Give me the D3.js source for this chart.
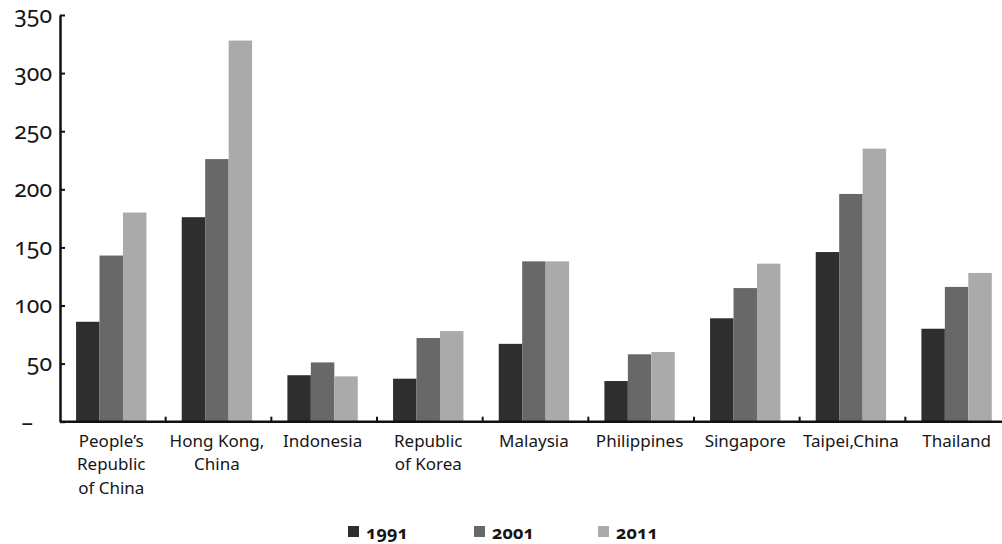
<!DOCTYPE html>
<html>
<head>
<meta charset="utf-8">
<script src="https://cdn.jsdelivr.net/npm/d3@7"></script>
<style>
  body { margin: 0; background: #fff; }
  text { font-family: "Noto Sans", Lato, sans-serif; fill: #161616; font-variant-numeric: oldstyle-nums; }
</style>
</head>
<body>
<div id="chart"></div>
<script>
const categories = ["People's Republic of China", "Hong Kong, China", "Indonesia", "Republic of Korea",
  "Malaysia", "Philippines", "Singapore", "Taipei,China", "Thailand"];
const labelLines = [["People\u2019s", "Republic", "of China"], ["Hong Kong,", "China"], ["Indonesia"],
  ["Republic", "of Korea"], ["Malaysia"], ["Philippines"], ["Singapore"], ["Taipei,China"], ["Thailand"]];
const years = ["1991", "2001", "2011"];
const values1991 = [86, 176, 40, 37, 67, 35, 89, 146, 80];
const values2001 = [143, 226, 51, 72, 138, 58, 115, 196, 116];
const values2011 = [180, 328, 39, 78, 138, 60, 136, 235, 128];
const yTicks = [0, 50, 100, 150, 200, 250, 300, 350];
const colors = ["#2e2e2e", "#686868", "#aaaaaa"];

var width = 1002, height = 544;
var mLeft = 60, mRight = 1011, mTop = 15, mBottom = 421.7;

const svg = d3.select("#chart").append("svg")
    .attr("width", width)
    .attr("height", height);

var x0 = d3.scaleBand().domain(categories).range([mLeft, mRight]);
var bw = x0.bandwidth();
var x1 = d3.scaleBand().domain(years).range([bw * 0.152, bw * 0.818]);
var y = d3.scaleLinear().domain([0, 350]).range([mBottom, mTop]);
var color = d3.scaleOrdinal().domain(years).range(colors);

var series = [values1991, values2001, values2011];
var rows = categories.map((c, i) => ({ cat: c, vals: years.map((yr, j) => ({ year: yr, v: series[j][i] })) }));

// bars
var groups = svg.selectAll("g.grp")
    .data(rows)
    .enter().append("g")
    .attr("class", "grp")
    .attr("transform", d => `translate(${x0(d.cat)},0)`);

groups.selectAll("rect")
    .data(d => d.vals)
    .enter().append("rect")
    .attr("x", d => x1(d.year))
    .attr("y", d => y(d.v))
    .attr("width", x1.bandwidth())
    .attr("height", d => y(0) - y(d.v))
    .attr("fill", d => color(d.year));

// y axis
var yAxis = d3.axisLeft(y)
    .tickValues(yTicks)
    .tickSize(-5)
    .tickSizeOuter(0)
    .tickPadding(8)
    .tickFormat(d => d === 0 ? "\u2013" : d);

var yg = svg.append("g")
    .attr("transform", `translate(${mLeft},0)`)
    .call(yAxis);
yg.select(".domain").attr("stroke", "#111").attr("stroke-width", 2.5);
yg.selectAll(".tick line").attr("stroke", "#111").attr("stroke-width", 2);
yg.selectAll(".tick text")
    .style("font-size", "23px")
    .attr("fill", "#161616")
    .attr("dx", d => d === 0 ? -19 : 0);

// x axis line and ticks between categories
svg.append("line")
    .attr("x1", mLeft).attr("x2", mRight)
    .attr("y1", y(0)).attr("y2", y(0))
    .attr("stroke", "#111")
    .attr("stroke-width", 2.5);

svg.selectAll("line.xtick")
    .data(categories.slice(1))
    .enter().append("line")
    .attr("class", "xtick")
    .attr("x1", d => x0(d)).attr("x2", d => x0(d))
    .attr("y1", y(0)).attr("y2", y(0) - 5)
    .attr("stroke", "#111")
    .attr("stroke-width", 2);

// category labels
var lbl = svg.selectAll("text.cat")
    .data(categories)
    .enter().append("text")
    .attr("class", "cat")
    .attr("text-anchor", "middle")
    .style("font-size", "17px")
    .attr("transform", d => `translate(${x0(d) + bw * 0.485},${y(0) + 25})`);

lbl.selectAll("tspan")
    .data((d, i) => labelLines[i])
    .enter().append("tspan")
    .attr("x", 0)
    .attr("dy", (d, i) => i === 0 ? 0 : 23.5)
    .text(d => d);

// legend
var legendX = [348, 474, 598];
var legend = svg.selectAll("g.leg")
    .data(years)
    .enter().append("g")
    .attr("class", "leg")
    .attr("transform", (d, i) => `translate(${legendX[i]},526)`);

legend.append("rect")
    .attr("width", 11)
    .attr("height", 11)
    .attr("fill", d => color(d));

legend.append("text")
    .attr("x", 18)
    .attr("y", 13)
    .style("font-size", "18px")
    .style("font-weight", "bold")
    .text(d => d);
</script>
</body>
</html>
